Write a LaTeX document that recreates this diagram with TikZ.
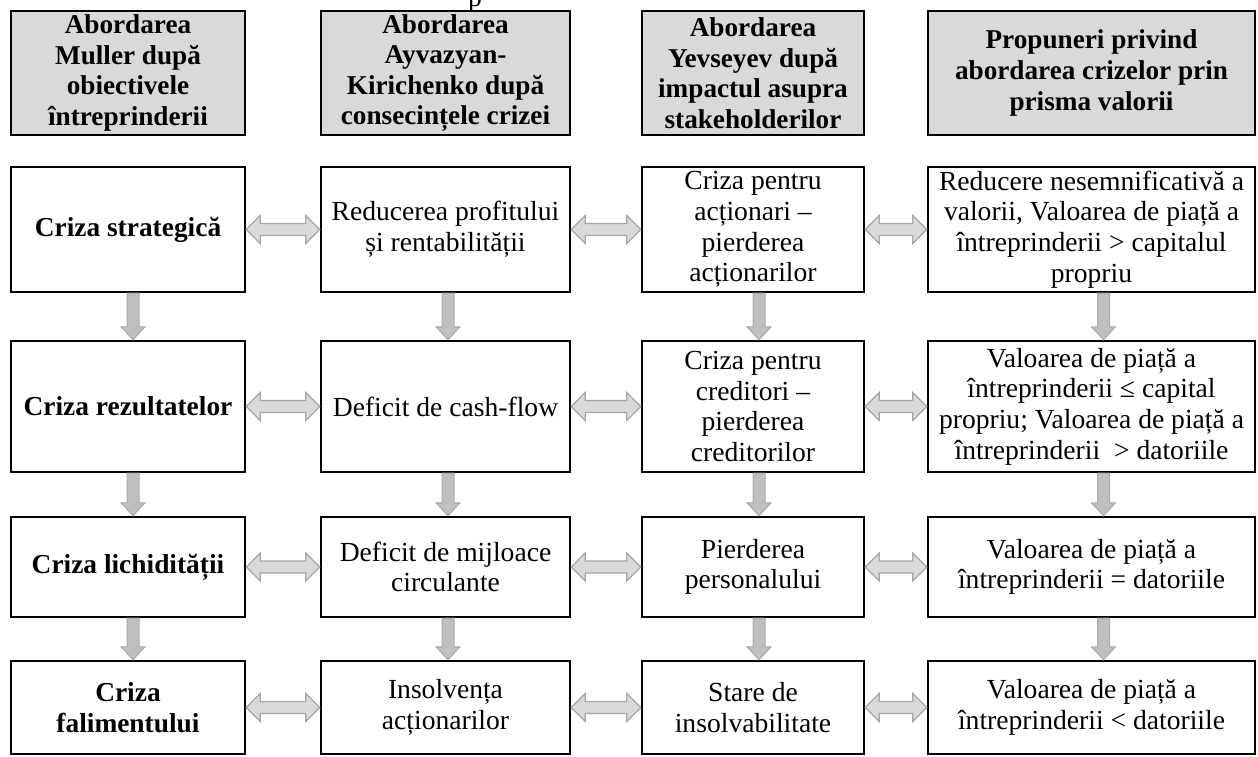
\documentclass[tikz,border=0pt]{standalone}
\usepackage{fontspec}
\setmainfont{Liberation Serif}
\usetikzlibrary{calc}

\definecolor{headfill}{HTML}{D9D9D9}
\definecolor{arrfill}{HTML}{D9D9D9}
\definecolor{arrline}{HTML}{A6A6A6}
\definecolor{downfill}{HTML}{BFBFBF}
\definecolor{downline}{HTML}{AAAAAA}

\tikzset{
  txt/.style={font=\fontsize{13.8}{15.3}\selectfont},
  box/.style={draw=black, line width=1.2pt, inner sep=0pt, align=center, txt},
  head/.style={box, fill=headfill, font=\fontsize{13.6}{15.3}\selectfont\bfseries},
  crisis/.style={box, font=\fontsize{13.7}{15.3}\selectfont\bfseries},
  colA/.style={minimum width=117pt},
  colB/.style={minimum width=124.5pt},
  colC/.style={minimum width=111pt},
  colD/.style={minimum width=163.5pt},
  rowH/.style={minimum height=62pt},
  rowA/.style={minimum height=62.5pt},
  rowB/.style={minimum height=65.5pt},
  rowC/.style={minimum height=50pt},
  rowD/.style={minimum height=46.5pt},
  bothway/.style={fill=arrfill, draw=arrline, line width=0.6pt, line join=miter},
  oneway/.style={fill=downfill, draw=downline, line width=0.5pt, line join=miter}
}

% block arrow pointing both ways between two boxes of one row
\newcommand\linkboth[2]{%
  \draw[bothway] let \p1=(#1.east), \p2=(#2.west) in
    (\x1,\y1) -- (\x1+7pt,\y1+7pt) -- (\x1+7pt,\y1+3pt) -- (\x2-7pt,\y1+3pt)
    -- (\x2-7pt,\y1+7pt) -- (\x2,\y1) -- (\x2-7pt,\y1-7pt) -- (\x2-7pt,\y1-3pt)
    -- (\x1+7pt,\y1-3pt) -- (\x1+7pt,\y1-7pt) -- cycle;}

% block arrow pointing down from one box to the box below it
\newcommand\linkdown[3]{%
  \draw[oneway] let \p1=([xshift=#3]#1.south), \p2=([xshift=#3]#2.north) in
    (\x1-3pt,\y1) -- (\x1-3pt,\y2+6.5pt) -- (\x1-6pt,\y2+6.5pt) -- (\x1,\y2)
    -- (\x1+6pt,\y2+6.5pt) -- (\x1+3pt,\y2+6.5pt) -- (\x1+3pt,\y1) -- cycle;}

\begin{document}
\begin{tikzpicture}[x=0.5pt, y=-0.5pt]
\useasboundingbox (0,0) rectangle (1258,756);

% remnant of the line above
\node[txt, anchor=base, inner sep=0pt] (top) at (475,6) {p};

% column headings
\node[head, colA, rowH] (h1) at (128,73)    {Abordarea\\Muller după\\obiectivele\\întreprinderii};
\node[head, colB, rowH] (h2) at (445.5,73)  {Abordarea\\Ayvazyan-\\Kirichenko după\\consecințele crizei};
\node[head, colC, rowH] (h3) at (753,73)    {Abordarea\\Yevseyev după\\impactul asupra\\stakeholderilor};
\node[head, colD, rowH] (h4) at (1091.5,73) {Propuneri privind\\abordarea crizelor prin\\prisma valorii};

% first stage
\node[crisis, colA, rowA] (a1) at (128,229.5)    {Criza strategică};
\node[box, colB, rowA]    (a2) at (445.5,229.5)  {Reducerea profitului\\și rentabilității};
\node[box, colC, rowA]    (a3) at (753,229.5)    {Criza pentru\\acționari –\\pierderea\\acționarilor};
\node[box, colD, rowA]    (a4) at (1091.5,229.5) {Reducere nesemnificativă a\\valorii, Valoarea de piață a\\întreprinderii > capitalul\\propriu};

% second stage
\node[crisis, colA, rowB] (b1) at (128,406.5)    {Criza rezultatelor};
\node[box, colB, rowB]    (b2) at (445.5,406.5)  {Deficit de cash-flow};
\node[box, colC, rowB]    (b3) at (753,406.5)    {Criza pentru\\creditori –\\pierderea\\creditorilor};
\node[box, colD, rowB]    (b4) at (1091.5,406.5) {Valoarea de piață a\\întreprinderii ≤ capital\\propriu; Valoarea de piață a\\întreprinderii~ > datoriile};

% third stage
\node[crisis, colA, rowC] (c1) at (128,567)    {Criza lichidității};
\node[box, colB, rowC]    (c2) at (445.5,567)  {Deficit de mijloace\\circulante};
\node[box, colC, rowC]    (c3) at (753,567)    {Pierderea\\personalului};
\node[box, colD, rowC]    (c4) at (1091.5,567) {Valoarea de piață a\\întreprinderii = datoriile};

% fourth stage
\node[crisis, colA, rowD] (d1) at (128,707.5)    {Criza\\falimentului};
\node[box, colB, rowD]    (d2) at (445.5,707.5)  {Insolvența\\acționarilor};
\node[box, colC, rowD]    (d3) at (753,707.5)    {Stare de\\insolvabilitate};
\node[box, colD, rowD]    (d4) at (1091.5,707.5) {Valoarea de piață a\\întreprinderii < datoriile};

% links along each row
\foreach \r in {a,b,c,d}{
  \linkboth{\r1}{\r2}
  \linkboth{\r2}{\r3}
  \linkboth{\r3}{\r4}
}

% links down each column
\foreach \c/\s in {1/2.5pt, 2/1.25pt, 3/3pt, 4/6pt}{
  \linkdown{a\c}{b\c}{\s}
  \linkdown{b\c}{c\c}{\s}
  \linkdown{c\c}{d\c}{\s}
}
\end{tikzpicture}
\end{document}
